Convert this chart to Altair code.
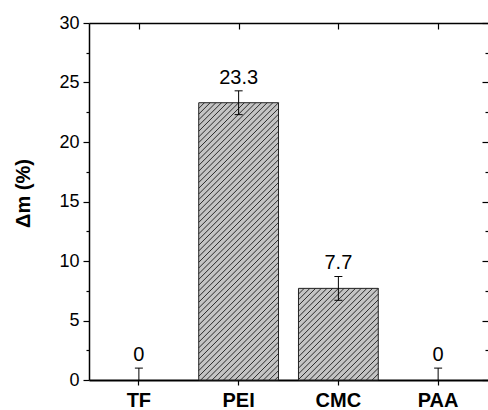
import altair as alt
import pandas as pd

categories = ["TF", "PEI", "CMC", "PAA"]
values = [0.0, 23.3, 7.7, 0.0]
errors = [1.0, 1.0, 1.0, 1.0]
value_labels = ["0", "23.3", "7.7", "0"]
y_ticks = [0, 5, 10, 15, 20, 25, 30]
y_minor = [2.5, 7.5, 12.5, 17.5, 22.5, 27.5]

W, H = 399, 357
YMAX = 30
FONT = "Liberation Sans"

df = pd.DataFrame({"cat": categories, "v": values, "e": errors, "lab": value_labels})
df["lo"] = (df["v"] - df["e"]).clip(lower=0)
df["hi"] = df["v"] + df["e"]

# diagonal hatch segments, derived from the bar values
n = len(categories)
step_px = W / n
bar_w = 0.8 * step_px
spacing = 5.7
rows = []
for i, v in enumerate(values):
    hpx = v * H / YMAX
    if hpx <= 0:
        continue
    x0 = (i + 0.1) * step_px
    c = x0 - hpx
    while c < x0 + bar_w:
        ylo = max(0.0, x0 - c)
        yhi = min(hpx, x0 + bar_w - c)
        if yhi > ylo:
            rows.append({"x": (c + ylo) / step_px, "x2": (c + yhi) / step_px,
                         "y": ylo * YMAX / H, "y2": yhi * YMAX / H})
        c += spacing
hatch = pd.DataFrame(rows)

yscale = alt.Scale(domain=[0, YMAX], nice=False, zero=True)


def xband(axis=None):
    return alt.X("cat:N", sort=categories,
                 scale=alt.Scale(domain=categories, paddingInner=0.2, paddingOuter=0.1),
                 axis=axis)


base = alt.Chart(df)
nonzero = base.transform_filter("datum.v > 0")

bars = base.mark_bar(fill="#c4c4c4", strokeWidth=0).encode(
    x=xband(alt.Axis(orient="bottom", title=None, domain=True, domainColor="black",
                     domainWidth=2, ticks=True, tickSize=5, tickColor="black", tickWidth=1.2,
                     labelFont=FONT, labelFontSize=20, labelFontWeight="bold",
                     labelColor="black", labelPadding=5, labelAngle=0)),
    y=alt.Y("v:Q", scale=yscale,
            axis=alt.Axis(orient="left", values=y_ticks, title="Δm (%)",
                          titleFont=FONT, titleFontSize=20, titleFontWeight="bold",
                          titleColor="black", titleX=-56, titleY=170,
                          domain=True, domainColor="black", domainWidth=1.5,
                          ticks=True, tickSize=6, tickColor="black", tickWidth=1.2,
                          labelFont=FONT, labelFontSize=18, labelColor="black",
                          labelPadding=4, grid=False)),
)

hatch_layer = alt.Chart(hatch).mark_rule(color="#2a2a2a", strokeWidth=1).encode(
    x=alt.X("x:Q", scale=alt.Scale(domain=[0, n], nice=False, zero=False), axis=None),
    x2="x2:Q",
    y=alt.Y("y:Q", scale=yscale, axis=None),
    y2="y2:Q",
)

outline = nonzero.mark_bar(fillOpacity=0, stroke="#222222", strokeWidth=1).encode(
    x=xband(), y=alt.Y("v:Q", scale=yscale, axis=None)
)

err = base.mark_rule(color="black", strokeWidth=1).encode(
    x=xband(), y=alt.Y("lo:Q", scale=yscale, axis=None), y2="hi:Q"
)
cap_hi = base.mark_tick(color="black", opacity=1, orient="horizontal", size=8,
                        thickness=1).encode(
    x=xband(), y=alt.Y("hi:Q", scale=yscale, axis=None)
)
cap_lo = base.transform_filter("datum.lo > 0").mark_tick(
    color="black", opacity=1, orient="horizontal", size=8, thickness=1).encode(
    x=xband(), y=alt.Y("lo:Q", scale=yscale, axis=None)
)

text = base.mark_text(baseline="bottom", dy=-3, font=FONT, fontSize=20, color="black").encode(
    x=xband(), y=alt.Y("hi:Q", scale=yscale, axis=None), text="lab:N"
)

# frame pieces and mirrored / minor ticks
left_minor = base.mark_point(opacity=0).encode(
    y=alt.Y("v:Q", scale=yscale,
            axis=alt.Axis(orient="left", values=y_minor, labels=False, domain=False,
                          ticks=True, tickSize=3, tickColor="black", tickWidth=1.2,
                          title=None, grid=False))
)
right_major = base.mark_point(opacity=0).encode(
    y=alt.Y("v:Q", scale=yscale,
            axis=alt.Axis(orient="right", values=y_ticks, labels=False, domain=False,
                          ticks=True, tickSize=6, offset=-6, tickColor="black",
                          tickWidth=1.2, title=None, grid=False))
)
right_minor = base.mark_point(opacity=0).encode(
    y=alt.Y("v:Q", scale=yscale,
            axis=alt.Axis(orient="right", values=y_minor, labels=False, domain=False,
                          ticks=True, tickSize=3, offset=-3, tickColor="black",
                          tickWidth=1.2, title=None, grid=False))
)
top_line = base.mark_point(opacity=0).encode(
    x=xband(alt.Axis(orient="top", labels=False, ticks=False, domain=True,
                     domainColor="black", domainWidth=1.5, title=None))
)
top_ticks = base.mark_point(opacity=0).encode(
    x=xband(alt.Axis(orient="top", labels=False, ticks=True, tickSize=6, offset=-6,
                     tickColor="black", tickWidth=1.2, domain=False, title=None))
)

chart = alt.layer(
    bars, hatch_layer, outline, err, cap_hi, cap_lo, text,
    left_minor, right_major, right_minor, top_line, top_ticks,
).resolve_scale(x="independent").resolve_axis(
    x="independent", y="independent"
).properties(
    width=W, height=H,
    autosize=alt.AutoSizeParams(type="none"),
    padding={"left": 89, "top": 23, "right": 0, "bottom": 30},
).configure_view(stroke=None).configure(background="white")

chart.save("out.html", embed_options={"renderer": "svg", "actions": False})
